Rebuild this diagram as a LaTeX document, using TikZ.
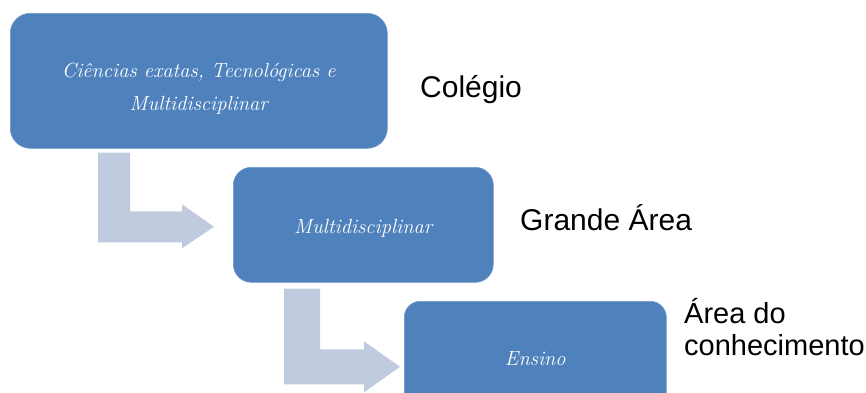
\documentclass[tikz,border=0pt]{standalone}
\usepackage{fontspec}
\newfontfamily\labelfont{Liberation Sans}
\usetikzlibrary{calc}
\definecolor{boxblue}{HTML}{4F81BD}
\definecolor{arrowfill}{HTML}{C0CBE0}
\tikzset{
  stagebox/.style={fill=boxblue, draw=boxblue!80!white, line width=0.6pt, inner sep=0pt,
    anchor=north west, align=center, text=white,
    font=\fontsize{20.5}{33}\selectfont\itshape},
  levellabel/.style={anchor=base west, inner sep=0pt, align=left,
    font=\labelfont\fontsize{30}{32}\selectfont},
  bentarrow/.style={fill=arrowfill}
}
\begin{document}
\begin{tikzpicture}[x=1pt,y=-1pt]
\useasboundingbox (0,0) rectangle (866,392);
\clip (0,0) rectangle (866,392);

\node[stagebox, rounded corners=20pt, minimum width=377pt, minimum height=135pt]
  (b1) at (10,13) {\rule{0pt}{31pt}Ciências exatas, Tecnológicas e\\Multidisciplinar};
\node[stagebox, rounded corners=18pt, minimum width=260pt, minimum height=115pt]
  (b2) at (233,167) {\rule{0pt}{22pt}Multidisciplinar};
\node[stagebox, rounded corners=16pt, minimum width=262pt, minimum height=115pt]
  (b3) at (404,301) {Ensino};

% bent arrow 1
\coordinate (s1) at ([xshift=88pt,yshift=-4pt]b1.south west);
\coordinate (t1) at ([xshift=-19pt,yshift=-2pt]b2.west);
\fill[bentarrow] (s1) -- ++(32,0) |- ([xshift=-32pt,yshift=15.5pt]t1)
  -- ++(0,-7) -- (t1) -- ++(-32,21.5) -- ++(0,-6) -| (s1);

% bent arrow 2
\coordinate (s2) at ([xshift=51pt,yshift=-6pt]b2.south west);
\coordinate (t2) at ([xshift=-4pt,yshift=-8pt]b3.west);
\fill[bentarrow] (s2) -- ++(36,0) |- ([xshift=-36pt,yshift=17.5pt]t2)
  -- ++(0,-8) -- (t2) -- ++(-36,25.5) -- ++(0,-8) -| (s2);

\node[levellabel] (l1) at (420,97) {Colégio};
\node[levellabel] (l2) at (520,230) {Grande Área};
\node[levellabel, font=\labelfont\fontsize{29}{32}\selectfont] (l3) at (684,355) {Área do\\conhecimento};
\end{tikzpicture}
\end{document}
